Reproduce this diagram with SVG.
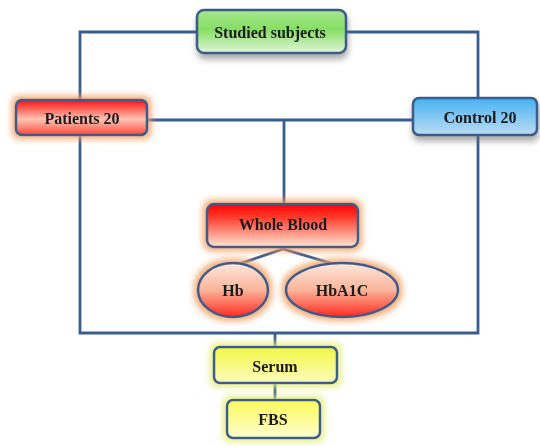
<svg xmlns="http://www.w3.org/2000/svg" width="540" height="446" viewBox="0 0 540 446">
<defs>
<linearGradient id="gGreen" x1="0" y1="0" x2="0" y2="1"><stop offset="0" stop-color="#a6e88e"/><stop offset="0.45" stop-color="#86de64"/><stop offset="1" stop-color="#e2f6dc"/></linearGradient>
<linearGradient id="gRed" x1="0" y1="0" x2="0" y2="1"><stop offset="0" stop-color="#ff1010"/><stop offset="0.55" stop-color="#ffc4b4"/><stop offset="1" stop-color="#ff4a3a"/></linearGradient>
<linearGradient id="gBlue" x1="0" y1="0" x2="0" y2="1"><stop offset="0" stop-color="#45b2f2"/><stop offset="1" stop-color="#bcdcf4"/></linearGradient>
<linearGradient id="gWB" x1="0" y1="0" x2="0" y2="1"><stop offset="0" stop-color="#ff0000"/><stop offset="0.3" stop-color="#ff3a2a"/><stop offset="1" stop-color="#fde6d4"/></linearGradient>
<linearGradient id="gOval" x1="0" y1="0" x2="0" y2="1"><stop offset="0" stop-color="#fde8dc"/><stop offset="0.5" stop-color="#fbb49a"/><stop offset="1" stop-color="#ff2a20"/></linearGradient>
<linearGradient id="gYel" x1="0" y1="0" x2="0" y2="1"><stop offset="0" stop-color="#f4f840"/><stop offset="1" stop-color="#fafcc0"/></linearGradient>
<linearGradient id="gYel2" x1="0" y1="0" x2="0" y2="1"><stop offset="0" stop-color="#fdfc5a"/><stop offset="1" stop-color="#fdfdd0"/></linearGradient>
<filter id="shadow" x="-20%" y="-30%" width="140%" height="180%"><feGaussianBlur in="SourceAlpha" stdDeviation="3"/><feOffset dx="1" dy="5" result="b"/><feFlood flood-color="#666" flood-opacity="0.55"/><feComposite in2="b" operator="in"/><feMerge><feMergeNode/><feMergeNode in="SourceGraphic"/></feMerge></filter>
<filter id="glowO" x="-20%" y="-40%" width="140%" height="180%"><feMorphology in="SourceAlpha" operator="dilate" radius="3"/><feGaussianBlur stdDeviation="3" result="b"/><feFlood flood-color="#f0a060" flood-opacity="0.85"/><feComposite in2="b" operator="in"/><feMerge><feMergeNode/><feMergeNode in="SourceGraphic"/></feMerge></filter>
<filter id="glowY" x="-20%" y="-40%" width="140%" height="180%"><feMorphology in="SourceAlpha" operator="dilate" radius="3"/><feGaussianBlur stdDeviation="3" result="b"/><feFlood flood-color="#e4ee70" flood-opacity="0.85"/><feComposite in2="b" operator="in"/><feMerge><feMergeNode/><feMergeNode in="SourceGraphic"/></feMerge></filter>
</defs>
<style>
.box{stroke:#3d5c8c;stroke-width:2.5}
.lbl{font-family:"Liberation Serif","Times New Roman",serif;font-weight:bold;font-size:16px;fill:#1a1a1a;text-anchor:middle}
.conn{fill:none;stroke:#3a5d90;stroke-width:2.8}
</style>
<g id="connectors" class="conn">
<polyline points="197,32 80,32 80,100"/>
<polyline points="346,32 478,32 478,98"/>
<line x1="147" y1="120" x2="413" y2="120"/>
<line x1="284" y1="120" x2="284" y2="204"/>
<polyline points="80,135 80,333 478,333 478,135"/>
<line x1="275" y1="333" x2="275" y2="347"/>
<line x1="275" y1="383" x2="275" y2="400"/>
<polyline points="236,265 283,249 337,265"/>
</g>
<g id="studied" filter="url(#shadow)"><rect class="box" x="197" y="10" width="149" height="43" rx="7" fill="url(#gGreen)"/><text class="lbl" x="270" y="38">Studied subjects</text></g>
<g id="patients" filter="url(#glowO)"><rect class="box" x="16" y="100" width="131" height="35" rx="6" fill="url(#gRed)"/><text class="lbl" x="82" y="124">Patients 20</text></g>
<g id="control" filter="url(#shadow)"><rect class="box" x="413" y="98" width="124" height="37" rx="6" fill="url(#gBlue)"/><text class="lbl" x="480" y="123">Control 20</text></g>
<g id="wholeblood" filter="url(#glowO)"><rect class="box" x="207" y="204" width="151" height="43" rx="7" fill="url(#gWB)"/><text class="lbl" x="283" y="230">Whole Blood</text></g>
<g id="hb" filter="url(#glowO)"><ellipse class="box" cx="233" cy="290" rx="35" ry="27" fill="url(#gOval)"/><text class="lbl" x="233" y="296">Hb</text></g>
<g id="hba1c" filter="url(#glowO)"><ellipse class="box" cx="342" cy="290" rx="56" ry="27" fill="url(#gOval)"/><text class="lbl" x="342" y="296">HbA1C</text></g>
<g id="serum" filter="url(#glowY)"><rect class="box" x="214" y="347" width="123" height="36" rx="6" fill="url(#gYel)"/><text class="lbl" x="275" y="372">Serum</text></g>
<g id="fbs" filter="url(#glowY)"><rect class="box" x="227" y="400" width="93" height="38" rx="6" fill="url(#gYel2)"/><text class="lbl" x="273" y="425">FBS</text></g>
</svg>
